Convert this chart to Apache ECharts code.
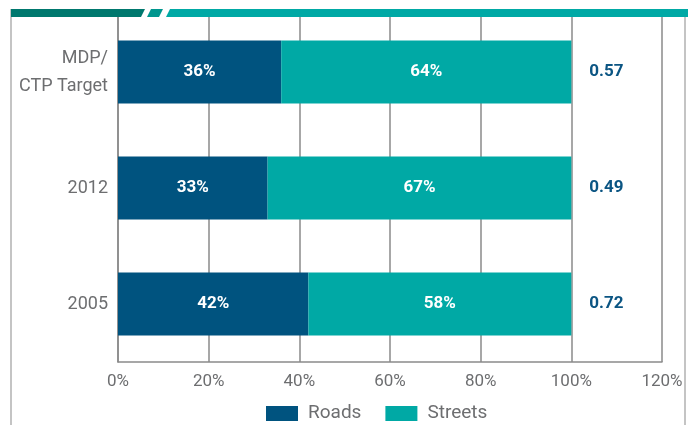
<!DOCTYPE html>
<html>
<head>
<meta charset="utf-8">
<script src="https://cdn.jsdelivr.net/npm/echarts@6/dist/echarts.min.js"></script>
<style>
  html, body { margin: 0; padding: 0; background: #fff; }
  #chart { width: 691px; height: 425px; }
</style>
</head>
<body>
<div id="chart"></div>
<script>
// Share of network by type, top row first
var categories = ['MDP/\nCTP Target', '2012', '2005'];
var roads = [36, 33, 42];
var streets = [64, 67, 58];
var ratios = ['0.57', '0.49', '0.72'];
var xTicks = [0, 20, 40, 60, 80, 100, 120];

var FONT = '"Roboto", "Liberation Sans", sans-serif';
var ROADS = '#00537f';
var STREETS = '#00a9a5';
var GREY = '#6d6e70';

var chart = echarts.init(document.getElementById('chart'));
chart.setOption({
  animation: false,
  textStyle: { fontFamily: FONT },
  grid: { left: 118, right: 29, top: 14, bottom: 63 },
  legend: {
    data: ['Roads', 'Streets'],
    top: 399,
    left: 261,
    itemWidth: 32,
    itemHeight: 15,
    itemGap: 24,
    icon: 'rect',
    textStyle: { fontSize: 19, color: GREY, fontFamily: FONT, padding: [0, 0, 0, 5] }
  },
  xAxis: {
    type: 'value',
    min: xTicks[0],
    max: xTicks[xTicks.length - 1],
    interval: 20,
    axisLine: { show: true, lineStyle: { color: '#8a8a8a', width: 1.5 } },
    axisTick: { show: false },
    splitLine: { show: true, lineStyle: { color: '#8a8a8a', width: 1.5 } },
    axisLabel: { formatter: '{value}%', fontSize: 17, color: GREY, margin: 11, fontFamily: FONT }
  },
  yAxis: {
    type: 'category',
    inverse: true,
    data: categories,
    axisLine: { show: true, lineStyle: { color: '#8a8a8a', width: 1.5 } },
    axisTick: { show: false },
    axisLabel: { fontSize: 18, color: GREY, margin: 10, lineHeight: 28, align: 'right', fontFamily: FONT }
  },
  series: [
    {
      name: 'Roads',
      type: 'bar',
      stack: 'share',
      barWidth: 63,
      data: roads,
      itemStyle: { color: ROADS },
      label: {
        show: true, position: 'inside', formatter: '{c}%',
        color: '#fff', fontSize: 17, fontWeight: 'bold', fontFamily: FONT
      }
    },
    {
      name: 'Streets',
      type: 'bar',
      stack: 'share',
      barWidth: 63,
      data: streets,
      itemStyle: { color: STREETS },
      label: {
        show: true, position: 'inside', formatter: '{c}%',
        color: '#fff', fontSize: 17, fontWeight: 'bold', fontFamily: FONT
      }
    },
    {
      // ratio figures placed just past the end of each stacked bar
      name: 'ratio',
      type: 'bar',
      stack: 'share',
      barWidth: 63,
      data: ratios.map(function () { return 0; }),
      itemStyle: { color: 'transparent' },
      label: {
        show: true, position: 'right', distance: 18,
        formatter: function (p) { return ratios[p.dataIndex]; },
        color: '#0b5583', fontSize: 17, fontWeight: 'bold', fontFamily: FONT
      },
      tooltip: { show: false }
    }
  ],
  graphic: [
    // page frame
    { type: 'rect', shape: { x: 10, y: 9, width: 2, height: 416 }, style: { fill: '#c4c4c4' }, z: 100 },
    { type: 'rect', shape: { x: 684, y: 9, width: 2, height: 416 }, style: { fill: '#c4c4c4' }, z: 100 },
    // header band with slashes
    { type: 'polygon', shape: { points: [[11, 9], [145, 9], [141, 17], [11, 17]] }, style: { fill: '#00786e' }, z: 101 },
    { type: 'polygon', shape: { points: [[151, 9], [163, 9], [159, 17], [147, 17]] }, style: { fill: '#00968e' }, z: 101 },
    { type: 'polygon', shape: { points: [[170, 9], [688, 9], [688, 17], [166, 17]] }, style: { fill: '#00a9a5' }, z: 101 }
  ]
});
</script>
</body>
</html>
